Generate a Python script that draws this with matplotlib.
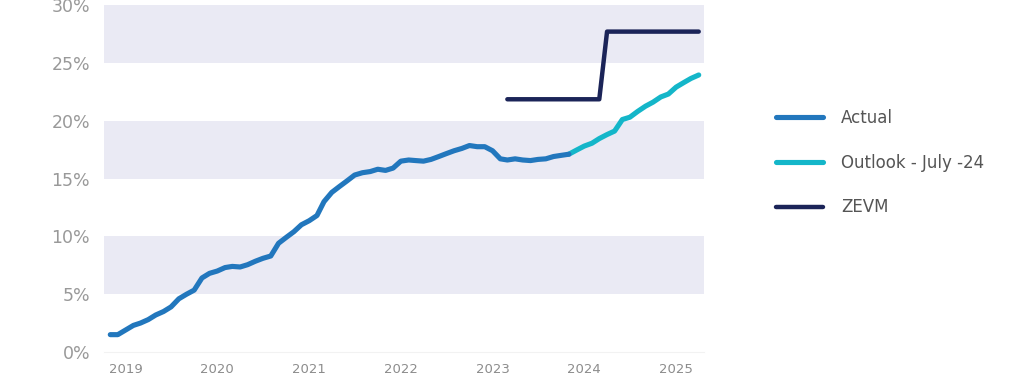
import numpy as np
import pandas as pd
import matplotlib
matplotlib.use("Agg")
import matplotlib.pyplot as plt
import matplotlib.dates as mdates
from matplotlib.ticker import FuncFormatter

# monthly share of sales (%), Nov 2018 - Nov 2023
actual = [1.5, 1.5, 1.9, 2.3, 2.5, 2.8, 3.2, 3.5, 3.9, 4.6,
          5.0, 5.35, 6.4, 6.8, 7.0, 7.3, 7.4, 7.35, 7.55, 7.85,
          8.1, 8.3, 9.4, 9.9, 10.4, 11.0, 11.35, 11.8, 13.0, 13.8,
          14.3, 14.8, 15.3, 15.5, 15.6, 15.8, 15.7, 15.9, 16.5, 16.6,
          16.55, 16.5, 16.65, 16.9, 17.15, 17.4, 17.6, 17.85, 17.75, 17.75,
          17.4, 16.7, 16.6, 16.7, 16.6, 16.55, 16.65, 16.7, 16.9, 17.0,
          17.1]
# outlook, Nov 2023 - Apr 2025
outlook = [17.1, 17.45, 17.8, 18.05, 18.45, 18.8, 19.1, 20.1, 20.3, 20.8,
           21.25, 21.6, 22.05, 22.3, 22.9, 23.3, 23.65, 23.95]
# ZEV mandate, Mar 2023 - Apr 2025
zevm = [21.85] * 13 + [27.7] * 13

actual_dates = pd.date_range("2018-11-01", periods=len(actual), freq="MS")
outlook_dates = pd.date_range("2023-11-01", periods=len(outlook), freq="MS")
zevm_dates = pd.date_range("2023-03-01", periods=len(zevm), freq="MS")

labels = ["Actual", "Outlook - July -24", "ZEVM"]
colors = ["#2277bd", "#14b6c9", "#1b2458"]

fig = plt.figure(figsize=(10.24, 3.86), dpi=100)
ax = fig.add_axes([104 / 1024, 1 - 352 / 386, 600 / 1024, 347 / 386])

for lo in [5, 15, 25]:
    ax.axhspan(lo, lo + 5, color="#eaeaf4", lw=0, zorder=0)

ax.plot(actual_dates, actual, color=colors[0], lw=3.7, solid_capstyle="round",
        solid_joinstyle="round", label=labels[0], zorder=3)
ax.plot(outlook_dates, outlook, color=colors[1], lw=3.7, solid_capstyle="round",
        solid_joinstyle="round", label=labels[1], zorder=2)
ax.plot(zevm_dates, zevm, color=colors[2], lw=3.2, solid_capstyle="round",
        solid_joinstyle="round", label=labels[2], zorder=2)

ax.set_ylim(0, 30)
ax.set_xlim(pd.Timestamp("2018-10-07"), pd.Timestamp("2025-04-22"))
ax.set_yticks(range(0, 31, 5))
ax.yaxis.set_major_formatter(FuncFormatter(lambda v, p: f"{int(v)}%"))
ax.xaxis.set_major_locator(mdates.YearLocator())
ax.xaxis.set_major_formatter(mdates.DateFormatter("%Y"))
ax.tick_params(axis="y", length=0, pad=10, labelsize=12.5, labelcolor="#999999")
ax.tick_params(axis="x", length=0, pad=8, labelsize=9.5, labelcolor="#8c8c8c")
for s in ["top", "right", "left"]:
    ax.spines[s].set_visible(False)
ax.spines["bottom"].set_color("#f2f2f2")
ax.set_facecolor("white")

leg = ax.legend(loc="upper left", bbox_to_anchor=(776 / 1024, 1 - 109 / 386),
                bbox_transform=fig.transFigure, frameon=False, fontsize=12,
                handlelength=2.8, handletextpad=1.1, labelspacing=1.6,
                borderpad=0, borderaxespad=0)
for t in leg.get_texts():
    t.set_color("#555555")

fig.savefig("out.png", dpi=100)
